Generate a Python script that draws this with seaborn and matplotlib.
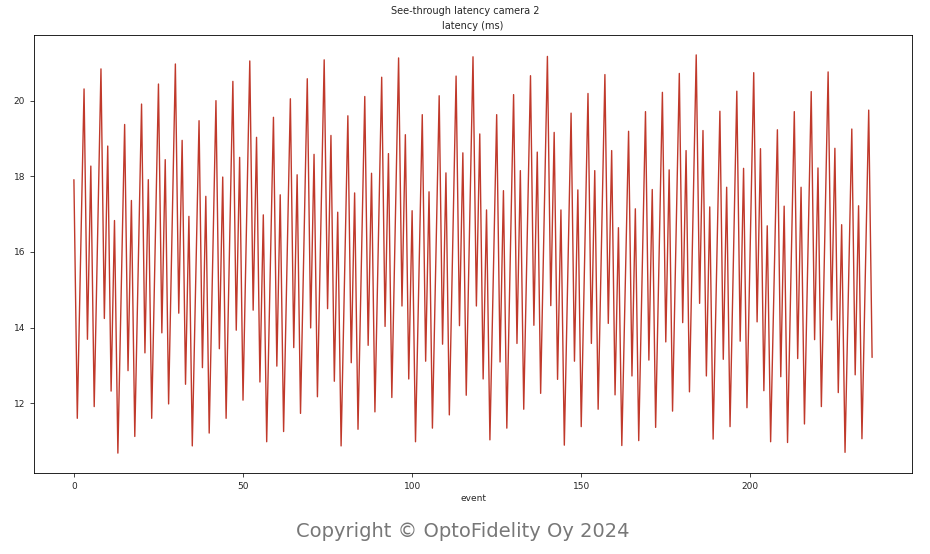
import numpy as np
import pandas as pd
import matplotlib
matplotlib.use("Agg")
import matplotlib.pyplot as plt
import seaborn as sns

# latency per event (ms)
latency = [
    17.91, 11.60, 15.96, 20.31, 13.69, 18.27, 11.91, 16.38, 20.84, 14.24,
    18.80, 12.32, 16.83, 10.68, 15.03, 19.37, 12.86, 17.36, 11.12, 15.52,
    19.91, 13.33, 17.91, 11.60, 16.02, 20.44, 13.86, 18.44, 11.98, 16.48,
    20.97, 14.38, 18.95, 12.50, 16.94, 10.87, 15.17, 19.47, 12.94, 17.47,
    11.21, 15.61, 20.00, 13.44, 17.98, 11.60, 16.06, 20.51, 13.93, 18.50,
    12.08, 16.57, 21.05, 14.46, 19.03, 12.56, 16.98, 10.98, 15.27, 19.56,
    12.98, 17.51, 11.25, 15.65, 20.05, 13.47, 18.04, 11.73, 16.16, 20.58,
    13.99, 18.58, 12.17, 16.63, 21.08, 14.50, 19.08, 12.58, 17.05, 10.87,
    15.24, 19.60, 13.07, 17.56, 11.31, 15.71, 20.11, 13.53, 18.08, 11.77,
    16.20, 20.62, 14.03, 18.60, 12.15, 16.64, 21.13, 14.57, 19.10, 12.64,
    17.09, 10.98, 15.31, 19.63, 13.11, 17.59, 11.34, 15.74, 20.13, 13.56,
    18.09, 11.69, 16.17, 20.65, 14.05, 18.62, 12.21, 16.69, 21.16, 14.57,
    19.12, 12.64, 17.11, 11.03, 15.33, 19.63, 13.09, 17.62, 11.34, 15.75,
    20.16, 13.58, 18.15, 11.84, 16.25, 20.66, 14.06, 18.64, 12.26, 16.72,
    21.17, 14.58, 19.16, 12.63, 17.11, 10.89, 15.28, 19.67, 13.11, 17.64,
    11.38, 15.79, 20.19, 13.58, 18.15, 11.84, 16.27, 20.69, 14.11, 18.68,
    12.22, 16.64, 10.88, 15.04, 19.19, 12.72, 17.14, 11.01, 15.36, 19.71,
    13.14, 17.65, 11.36, 15.79, 20.22, 13.62, 18.17, 11.79, 16.26, 20.72,
    14.13, 18.68, 12.30, 16.76, 21.21, 14.64, 19.21, 12.72, 17.19, 11.05,
    15.39, 19.72, 13.16, 17.71, 11.38, 15.82, 20.25, 13.64, 18.21, 11.88,
    16.31, 20.74, 14.15, 18.73, 12.33, 16.69, 10.98, 15.11, 19.23, 12.70,
    17.21, 10.96, 15.34, 19.71, 13.18, 17.71, 11.45, 15.85, 20.24, 13.68,
    18.22, 11.91, 16.34, 20.76, 14.20, 18.74, 12.28, 16.72, 10.70, 14.98,
    19.25, 12.75, 17.22, 11.06, 15.41, 19.75, 13.21,
]
events = list(range(len(latency)))

sns.set_theme(style="ticks")
df = pd.DataFrame({"event": events, "latency": latency})

fig = plt.figure(figsize=(9.3, 5.54), dpi=100)
ax = fig.add_axes([34 / 930, 1 - 473 / 554, (912 - 34) / 930, (473 - 35) / 554])
sns.lineplot(data=df, x="event", y="latency", ax=ax, color="#c0392b", linewidth=1.0)

ax.set_title("latency (ms)", fontsize=7, pad=4)
fig.suptitle("See-through latency camera 2", fontsize=7, y=0.99)
ax.set_xlabel("event", fontsize=6.5, labelpad=2)
ax.set_ylabel("")
ax.set_xticks([0, 50, 100, 150, 200])
ax.set_yticks([12, 14, 16, 18, 20])
ax.tick_params(labelsize=6.5, length=3, width=0.6)
for s in ax.spines.values():
    s.set_linewidth(0.6)
    s.set_color("black")

# watermark
fig.text(0.498, 0.03, "Copyright © OptoFidelity Oy 2024", ha="center",
         fontsize=14, color="#777777")

fig.savefig("out.png", dpi=100)
